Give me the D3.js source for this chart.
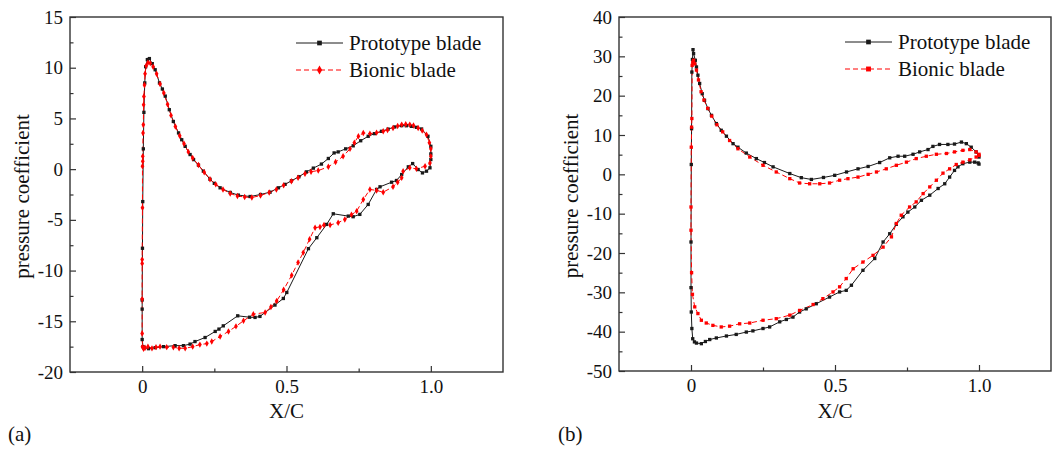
<!DOCTYPE html>
<html>
<head>
<meta charset="utf-8">
<script src="https://cdnjs.cloudflare.com/ajax/libs/d3/7.8.5/d3.min.js"></script>
<style>
body { margin: 0; background: #fff; }
svg { font-family: "Liberation Serif", "Times New Roman", serif; }
</style>
</head>
<body>
<svg width="1062" height="450"></svg>
<script>
// (a) pressure coefficient, order: upper side TE -> LE -> lower side TE
var protoA = [
 [1.000,1.5],[1.000,2.25],[0.990,3.24],[0.968,3.96],[0.950,4.12],[0.933,4.22],[0.915,4.28],[0.899,4.29],
 [0.875,4.16],[0.852,3.95],[0.829,3.73],[0.805,3.5],[0.783,3.24],[0.757,2.8],[0.731,2.3],[0.705,2.0],
 [0.679,1.7],[0.665,1.6],[0.645,1.05],[0.621,0.5],[0.593,0.1],[0.569,-0.27],[0.543,-0.75],[0.517,-1.15],
 [0.495,-1.5],[0.472,-1.84],[0.443,-2.27],[0.410,-2.5],[0.374,-2.7],[0.333,-2.56],[0.305,-2.3],[0.270,-1.84],
 [0.250,-1.4],[0.235,-1.0],[0.212,-0.2],[0.195,0.4],[0.178,0.94],[0.166,1.44],[0.149,2.25],[0.137,2.9],
 [0.126,3.57],[0.108,4.7],[0.094,5.86],[0.080,7.2],[0.070,7.9],[0.060,8.5],[0.045,9.8],[0.035,10.4],
 [0.025,10.9],[0.018,10.8],[0.012,10.1],[0.009,8.5],[0.006,5.6],[0.004,2.0],[0.002,-3.2],[0.001,-7.8],
 [0.000,-12.9],[0.000,-13.8],[0.000,-16.8],[0.003,-17.5],[0.007,-17.6],[0.022,-17.7],[0.045,-17.6],[0.074,-17.5],
 [0.114,-17.4],[0.143,-17.4],[0.166,-17.25],[0.183,-17.0],[0.218,-16.6],[0.253,-16.0],[0.266,-15.77],[0.281,-15.45],
 [0.331,-14.46],[0.372,-14.6],[0.391,-14.62],[0.408,-14.52],[0.460,-13.4],[0.489,-12.75],[0.501,-12.16],[0.576,-7.84],
 [0.605,-6.76],[0.639,-5.45],[0.662,-4.4],[0.714,-4.63],[0.731,-4.69],[0.754,-4.46],[0.783,-3.48],[0.812,-2.0],
 [0.824,-1.74],[0.864,-1.29],[0.881,-1.12],[0.899,-0.53],[0.922,0.23],[0.937,0.55],[0.956,-0.04],[0.971,-0.37],
 [0.985,-0.2],[0.997,0.13],[1.000,0.95]
];
var bionicA = [
 [1.000,1.27],[1.000,2.0],[0.995,2.6],[0.985,3.4],[0.970,3.8],[0.956,4.06],[0.940,4.3],[0.927,4.39],
 [0.913,4.42],[0.899,4.39],[0.885,4.25],[0.869,4.06],[0.850,3.85],[0.835,3.73],[0.812,3.6],[0.789,3.5],
 [0.766,3.57],[0.749,3.24],[0.735,2.6],[0.720,2.0],[0.696,1.27],[0.670,0.7],[0.645,0.23],[0.610,-0.14],
 [0.585,-0.25],[0.564,-0.45],[0.540,-0.85],[0.517,-1.2],[0.490,-1.6],[0.465,-2.0],[0.440,-2.3],[0.410,-2.6],
 [0.380,-2.8],[0.355,-2.75],[0.330,-2.65],[0.305,-2.4],[0.280,-2.0],[0.255,-1.5],[0.235,-1.0],[0.215,-0.3],
 [0.195,0.4],[0.175,1.1],[0.160,1.7],[0.145,2.5],[0.130,3.3],[0.115,4.2],[0.100,5.3],[0.088,6.4],
 [0.075,7.5],[0.062,8.4],[0.050,9.4],[0.038,10.1],[0.028,10.45],[0.020,10.5],[0.014,10.2],[0.010,9.4],
 [0.008,8.3],[0.006,7.17],[0.005,6.35],[0.004,4.37],[0.003,3.57],[0.002,1.27],[0.002,0.78],[0.001,0.29],
 [0.001,-3.8],[0.000,-8.9],[0.000,-9.3],[0.000,-12.8],[0.000,-16.2],[0.001,-17.5],[0.005,-17.7],[0.010,-17.6],
 [0.020,-17.5],[0.034,-17.67],[0.048,-17.55],[0.062,-17.5],[0.085,-17.55],[0.108,-17.57],[0.128,-17.65],[0.149,-17.67],
 [0.175,-17.5],[0.200,-17.3],[0.224,-17.2],[0.241,-17.0],[0.270,-16.5],[0.299,-16.0],[0.325,-15.5],[0.351,-14.95],
 [0.385,-14.3],[0.426,-14.13],[0.446,-13.6],[0.466,-13.0],[0.490,-11.9],[0.518,-10.46],[0.540,-9.2],[0.558,-8.23],
 [0.580,-6.9],[0.599,-5.77],[0.616,-5.7],[0.630,-5.5],[0.651,-5.5],[0.679,-5.28],[0.702,-4.96],[0.725,-4.5],
 [0.743,-4.14],[0.766,-3.0],[0.789,-2.0],[0.812,-2.1],[0.835,-2.27],[0.869,-1.74],[0.885,-1.3],[0.899,-0.86],
 [0.904,-0.2],[0.927,0.13],[0.950,0.03],[0.980,0.29],[0.997,0.6]
];

// (b)
var protoB = [
 [1.000,4.4],[0.990,5.7],[0.973,6.9],[0.956,7.8],[0.939,8.2],[0.915,7.7],[0.892,7.6],[0.863,7.6],
 [0.840,7.1],[0.823,6.3],[0.794,5.7],[0.771,5.1],[0.742,4.6],[0.719,4.6],[0.690,4.2],[0.655,3.0],
 [0.615,2.0],[0.580,1.4],[0.540,0.6],[0.499,-0.25],[0.460,-0.8],[0.418,-1.3],[0.383,-0.85],[0.343,0.2],
 [0.285,1.9],[0.255,3.0],[0.227,4.0],[0.192,5.4],[0.163,6.9],[0.146,7.8],[0.123,9.7],[0.105,11.2],
 [0.088,12.9],[0.071,15.0],[0.059,16.7],[0.047,18.8],[0.039,20.5],[0.030,23.1],[0.024,25.2],[0.019,27.3],
 [0.015,29.0],[0.009,30.7],[0.007,31.7],[0.005,29.2],[0.003,26.0],[0.002,11.6],[0.001,2.5],[0.000,-17.2],
 [0.000,-28.8],[0.001,-35.0],[0.003,-39.2],[0.006,-41.8],[0.012,-42.6],[0.019,-42.9],[0.036,-43.05],[0.050,-42.5],
 [0.065,-42.0],[0.088,-41.6],[0.123,-41.1],[0.157,-40.7],[0.192,-40.1],[0.215,-39.8],[0.250,-39.2],[0.273,-38.8],
 [0.308,-37.5],[0.331,-36.9],[0.354,-36.3],[0.377,-35.0],[0.400,-34.2],[0.435,-32.9],[0.481,-31.2],[0.516,-29.9],
 [0.539,-29.5],[0.557,-28.2],[0.597,-24.4],[0.638,-21.4],[0.667,-17.2],[0.690,-15.1],[0.713,-12.7],[0.736,-10.8],
 [0.753,-9.6],[0.777,-8.3],[0.800,-6.6],[0.829,-5.3],[0.858,-3.6],[0.881,-2.4],[0.898,-0.7],[0.915,1.0],
 [0.927,1.9],[0.944,2.7],[0.968,3.1],[0.985,3.1],[0.997,2.9],[1.000,2.6]
];
var bionicB = [
 [1.000,4.8],[0.990,5.7],[0.968,6.3],[0.944,6.1],[0.915,5.7],[0.887,5.3],[0.852,5.1],[0.817,4.6],
 [0.782,4.0],[0.748,3.1],[0.713,2.3],[0.678,1.4],[0.644,0.6],[0.615,0.0],[0.580,-0.7],[0.545,-1.1],
 [0.516,-1.5],[0.481,-2.2],[0.447,-2.4],[0.412,-2.4],[0.377,-2.2],[0.343,-1.1],[0.296,0.6],[0.250,2.3],
 [0.204,4.4],[0.163,6.5],[0.134,8.6],[0.110,10.8],[0.090,12.6],[0.072,14.8],[0.058,16.8],[0.045,18.9],
 [0.035,21.0],[0.026,24.0],[0.019,26.5],[0.013,28.1],[0.009,29.0],[0.006,28.5],[0.004,27.7],[0.003,14.2],
 [0.002,12.0],[0.001,6.9],[0.000,-8.3],[0.000,-14.2],[0.002,-25.0],[0.005,-30.5],[0.013,-33.7],[0.024,-35.4],
 [0.036,-37.1],[0.053,-37.8],[0.076,-38.4],[0.105,-38.8],[0.134,-38.6],[0.169,-38.0],[0.204,-37.8],[0.250,-37.1],
 [0.296,-36.7],[0.343,-35.8],[0.377,-34.6],[0.424,-33.1],[0.458,-31.6],[0.493,-29.9],[0.516,-28.6],[0.539,-26.5],
 [0.563,-24.0],[0.597,-22.3],[0.632,-20.6],[0.667,-18.5],[0.696,-15.9],[0.713,-12.5],[0.730,-10.4],[0.759,-8.3],
 [0.782,-7.0],[0.806,-4.9],[0.829,-3.2],[0.852,-1.5],[0.875,0.3],[0.898,1.4],[0.921,2.5],[0.944,3.1],
 [0.968,3.7],[0.990,4.4],[1.000,5.1]
];

var seriesNames = ["Prototype blade", "Bionic blade"];
var xTicks = [0, 0.5, 1.0];
var xMinor = [0.25, 0.75];
var yTicksA = [-20, -15, -10, -5, 0, 5, 10, 15];
var yMinorA = [-17.5, -12.5, -7.5, -2.5, 2.5, 7.5, 12.5];
var yTicksB = [-50, -40, -30, -20, -10, 0, 10, 20, 30, 40];
var yMinorB = [-45, -35, -25, -15, -5, 5, 15, 25, 35];
var panelLabels = ["(a)", "(b)"];

var svg = d3.select("svg");
var BLACK = "#1a1a1a", RED = "#ff0000";

function drawPanel(p) {
    var g = svg.append("g").attr("transform", "translate(" + p.left + "," + p.top + ")");
    var x = d3.scaleLinear().domain([-0.25, 1.25]).range([0, p.w]);
    var y = d3.scaleLinear().domain(p.yDomain).range([p.h, 0]);

    // 轴
    var xa = g.append("g").attr("transform", "translate(0," + p.h + ")")
        .call(d3.axisBottom(x).tickValues(xTicks).tickSize(-6).tickSizeOuter(0).tickPadding(8)
            .tickFormat(function(d){ return d == 0 ? "0" : d3.format(".1f")(d); }));
    g.append("g").attr("transform", "translate(0," + p.h + ")")
        .call(d3.axisBottom(x).tickValues(xMinor).tickSize(-3.5).tickSizeOuter(0).tickFormat(""));
    var ya = g.append("g")
        .call(d3.axisLeft(y).tickValues(p.yTicks).tickSize(-6).tickSizeOuter(0).tickPadding(7)
            .tickFormat(function(d){ return String(d); }));
    g.append("g")
        .call(d3.axisLeft(y).tickValues(p.yMinor).tickSize(-3.5).tickSizeOuter(0).tickFormat(""));
    g.selectAll(".domain").remove();
    g.selectAll(".tick line").attr("stroke", "#333").attr("stroke-width", 1.2);
    g.selectAll(".tick text").attr("fill", "#111").style("font-size", "19px")
        .style("font-family", "'Liberation Serif', 'Times New Roman', serif");

    g.append("rect").attr("width", p.w).attr("height", p.h)
        .attr("fill", "none").attr("stroke", "#333").attr("stroke-width", 1.4);

    var line = d3.line().x(function(d){ return x(d[0]); }).y(function(d){ return y(d[1]); });

    // 曲線
    g.append("path").datum(p.proto).attr("d", line)
        .attr("fill", "none").attr("stroke", BLACK).attr("stroke-width", 1);
    g.append("path").datum(p.bionic).attr("d", line)
        .attr("fill", "none").attr("stroke", RED).attr("stroke-width", 1).attr("stroke-dasharray", "5,3");

    var sq = d3.symbol().type(d3.symbolSquare).size(11);
    var redSym = d3.symbol().type(p.redShape).size(p.redShape === d3.symbolSquare ? 11 : 12);
    g.selectAll(".mb").data(p.proto).enter().append("path")
        .attr("d", sq).attr("fill", BLACK)
        .attr("transform", function(d){ return "translate(" + x(d[0]) + "," + y(d[1]) + ")"; });
    g.selectAll(".mr").data(p.bionic).enter().append("path")
        .attr("d", redSym).attr("fill", RED)
        .attr("transform", function(d){ return "translate(" + x(d[0]) + "," + y(d[1]) + ")"; });

    // 凡例
    var lg = svg.append("g").attr("transform", "translate(" + p.legX + "," + p.legY + ")");
    [0, 1].forEach(function(i){
        var yy = i * 27;
        lg.append("line").attr("x1", 0).attr("x2", 47).attr("y1", yy).attr("y2", yy)
            .attr("stroke", i == 0 ? BLACK : RED).attr("stroke-width", 1)
            .attr("stroke-dasharray", i == 0 ? null : "5,3");
        lg.append("path").attr("d", i == 0 ? d3.symbol().type(d3.symbolSquare).size(22)()
                : d3.symbol().type(p.redShape).size(24)())
            .attr("fill", i == 0 ? BLACK : RED).attr("transform", "translate(23.5," + yy + ")");
        lg.append("text").attr("x", 53).attr("y", yy + 7).text(seriesNames[i])
            .style("font-size", "21px").attr("fill", "#111");
    });

    // タイトル
    svg.append("text").attr("x", p.left + x(0.5)).attr("y", 418).attr("text-anchor", "middle")
        .style("font-size", "21px").attr("fill", "#111").text("X/C");
    svg.append("text").attr("transform", "translate(" + p.yTitleX + "," + (p.top + p.h / 2 + 2) + ") rotate(-90)")
        .attr("text-anchor", "middle").style("font-size", "21px").attr("fill", "#111")
        .text("pressure coefficient");
    svg.append("text").attr("x", p.labX).attr("y", 441).style("font-size", "21px")
        .attr("fill", "#111").text(p.label);
}

drawPanel({ left: 70, top: 17, w: 433, h: 355, yDomain: [-20, 15], yTicks: yTicksA, yMinor: yMinorA,
    proto: protoA, bionic: bionicA, redShape: d3.symbolDiamond,
    legX: 296, legY: 43, yTitleX: 29, labX: 8, label: panelLabels[0] });
drawPanel({ left: 619, top: 17, w: 432, h: 354, yDomain: [-50, 40], yTicks: yTicksB, yMinor: yMinorB,
    proto: protoB, bionic: bionicB, redShape: d3.symbolSquare,
    legX: 845, legY: 42, yTitleX: 578, labX: 558, label: panelLabels[1] });
</script>
</body>
</html>
